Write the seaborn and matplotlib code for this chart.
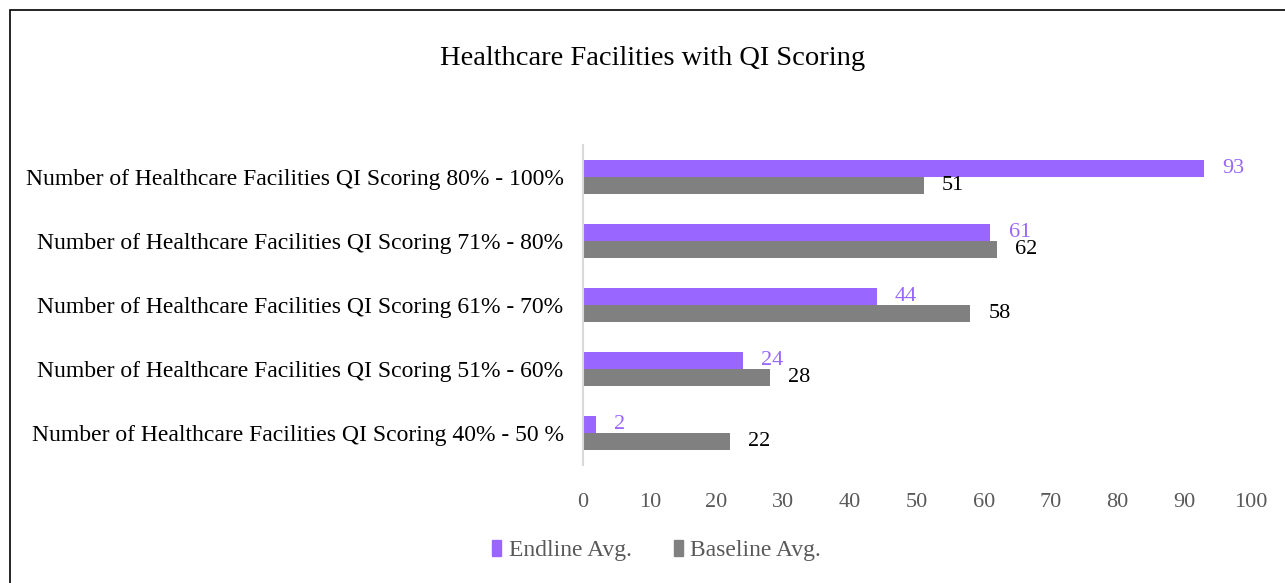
import pandas as pd
import seaborn as sns
import matplotlib.pyplot as plt
from matplotlib.patches import Rectangle

categories = [
    'Number of Healthcare Facilities QI Scoring 80% - 100%',
    'Number of Healthcare Facilities QI Scoring 71% - 80%',
    'Number of Healthcare Facilities QI Scoring 61% - 70%',
    'Number of Healthcare Facilities QI Scoring 51% - 60%',
    'Number of Healthcare Facilities QI Scoring 40% - 50 %',
]
endline = [93, 61, 44, 24, 2]
baseline = [51, 62, 58, 28, 22]
series = ['Endline Avg.', 'Baseline Avg.']

df = pd.DataFrame({
    'Category': categories * 2,
    'Value': endline + baseline,
    'Series': [series[0]] * len(categories) + [series[1]] * len(categories),
})

sns.set_style('white')
plt.rcParams['font.family'] = ['Liberation Serif', 'DejaVu Serif']

fig = plt.figure(figsize=(12.85, 5.83), dpi=100)
ax = fig.add_axes([0.4537, 0.2024, 0.5198, 0.5486])

colors = ['#9966FF', '#808080']
sns.barplot(data=df, y='Category', x='Value', hue='Series',
            hue_order=series, order=categories, orient='h',
            palette=colors, saturation=1, width=0.53, linewidth=0,
            ax=ax, legend=False)

label_colors = ['#9966FF', '#000000']
for cont, c in zip(ax.containers, label_colors):
    ax.bar_label(cont, padding=13, color=c, fontsize=16)

ax.set_xlim(0, 100)
ax.set_xticks(range(0, 101, 10))
ax.set_xlabel('')
ax.set_ylabel('')
for s in ['top', 'right', 'bottom']:
    ax.spines[s].set_visible(False)
ax.spines['left'].set_color('#D9D9D9')
ax.spines['left'].set_linewidth(1.5)
ax.tick_params(axis='x', colors='#595959', labelsize=16, length=0, pad=20)
ax.tick_params(axis='y', labelsize=17, length=0, pad=14, labelcolor='#000000')

fig.text(0.508, 0.9, 'Healthcare Facilities with QI Scoring',
         ha='center', va='center', fontsize=20.5, color='black')

handles = [plt.Rectangle((0, 0), 1, 1, color=c) for c in colors]
fig.legend(handles, series, loc='center', bbox_to_anchor=(0.511, 0.056),
           ncol=2, frameon=False, fontsize=17, handlelength=0.4,
           handleheight=0.7, handletextpad=0.3, columnspacing=1.8,
           labelcolor='#595959')

fig.patches.append(Rectangle((10 / 1285, -0.01), 1.0, 1 - 10 / 583 + 0.01,
                             transform=fig.transFigure, fill=False,
                             edgecolor='black', linewidth=1.2))

plt.savefig('out.png', dpi=100)
